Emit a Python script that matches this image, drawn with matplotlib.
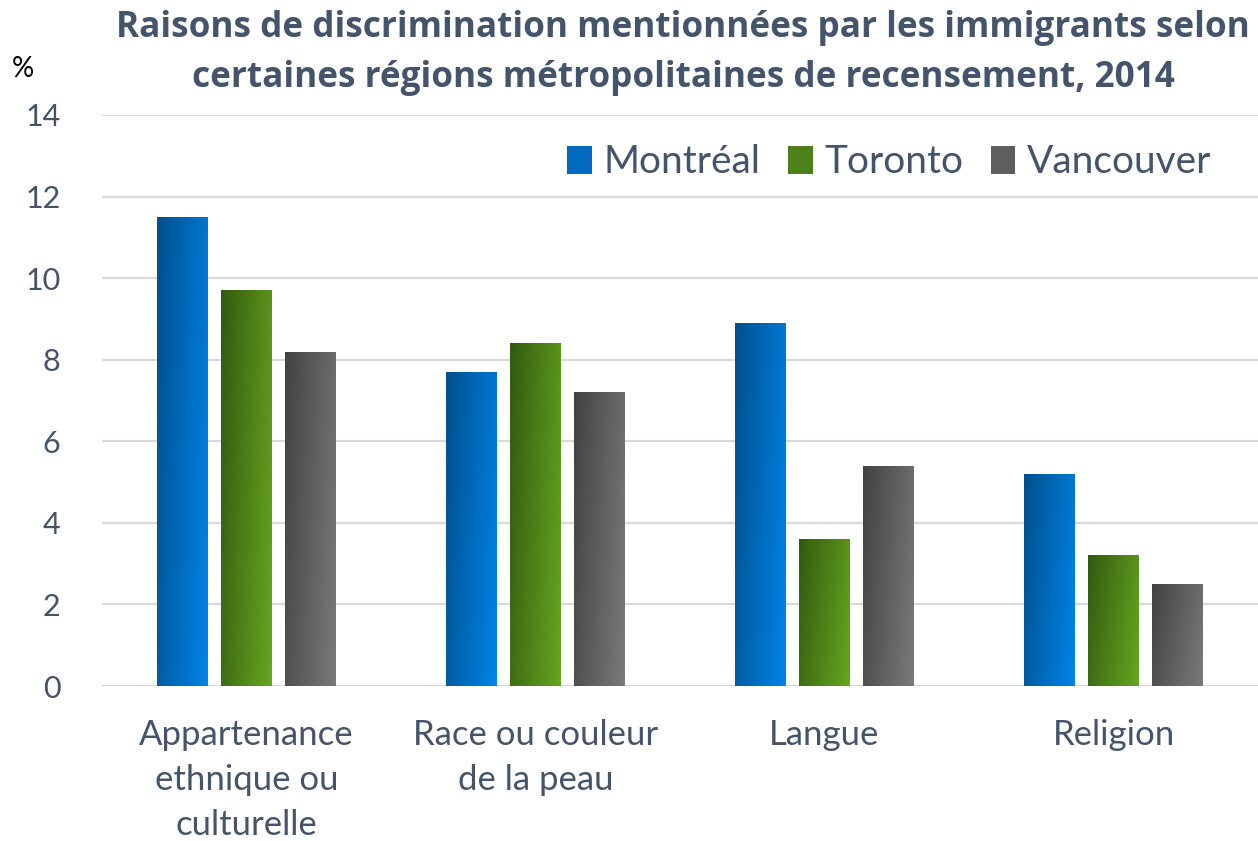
import matplotlib.pyplot as plt
import numpy as np
from matplotlib.colors import LinearSegmentedColormap
from matplotlib.patches import Patch

categories = ['Appartenance\nethnique ou\nculturelle', 'Race ou couleur\nde la peau', 'Langue', 'Religion']
series = ['Montréal', 'Toronto', 'Vancouver']
montreal = [11.5, 7.7, 8.9, 5.2]
toronto = [9.7, 8.4, 3.6, 3.2]
vancouver = [8.2, 7.2, 5.4, 2.5]
yticks = [0, 2, 4, 6, 8, 10, 12, 14]

grad_colors = [('#00508C', '#0084E8'), ('#335A10', '#66A620'), ('#424242', '#7A7A7A')]
mid_colors = ['#006BC0', '#4C8018', '#5E5E5E']
text_color = '#44546A'

fig = plt.figure(figsize=(12.58, 8.41), dpi=100)
ax = fig.add_axes([0.0811, 0.1843, 0.9189, 0.679])

x = np.arange(len(categories))
width = 0.176
offsets = [-0.221, 0.0, 0.221]

# gradient field: mostly left->right, a little top->bottom
gx, gy = np.meshgrid(np.linspace(0, 1, 64), np.linspace(0, 1, 64))
field = 0.75 * gx + 0.25 * gy

for vals, off, (c0, c1) in zip([montreal, toronto, vancouver], offsets, grad_colors):
    cmap = LinearSegmentedColormap.from_list('g', [c0, c1])
    bars = ax.bar(x + off, vals, width, color='none', edgecolor='none', zorder=3)
    for b in bars:
        bx, by = b.get_x(), b.get_y()
        im = ax.imshow(field, cmap=cmap, extent=[bx, bx + b.get_width(), by, by + b.get_height()],
                       origin='upper', aspect='auto', zorder=3, interpolation='bilinear')
        im.set_clip_path(b)

ax.set_xlim(-0.5, 3.5)
ax.set_ylim(0, 14)
ax.set_yticks(yticks)
ax.set_xticks(x)
ax.set_xticklabels(categories, linespacing=1.5)
ax.yaxis.grid(True, color='#D9D9D9', linewidth=1.6, zorder=0)
ax.set_axisbelow(True)
for s in ax.spines.values():
    s.set_visible(False)
ax.tick_params(axis='both', length=0, colors=text_color)
ax.tick_params(axis='y', pad=30, labelsize=22)
ax.tick_params(axis='x', pad=24, labelsize=25)
for lab in ax.get_xticklabels() + ax.get_yticklabels():
    lab.set_fontfamily('Lato')
    lab.set_color(text_color)

handles = [Patch(facecolor=c, edgecolor='none') for c in mid_colors]
leg = ax.legend(handles, series, loc='upper right', bbox_to_anchor=(0.99, 1.01), ncol=3,
                frameon=False, handlelength=0.64, handleheight=0.72, handletextpad=0.3,
                columnspacing=0.7, prop={'family': 'Lato', 'size': 28})
for t in leg.get_texts():
    t.set_color(text_color)

fig.text(0.543, 0.988, 'Raisons de discrimination mentionnées par les immigrants selon\n'
         'certaines régions métropolitaines de recensement, 2014',
         ha='center', va='top', fontsize=25.3, fontweight='bold', family='Open Sans',
         color=text_color, linespacing=1.5)
fig.text(0.009, 0.918, '%', fontsize=20, family='Lato', color='black', va='center')

fig.savefig('out.png', dpi=100)
